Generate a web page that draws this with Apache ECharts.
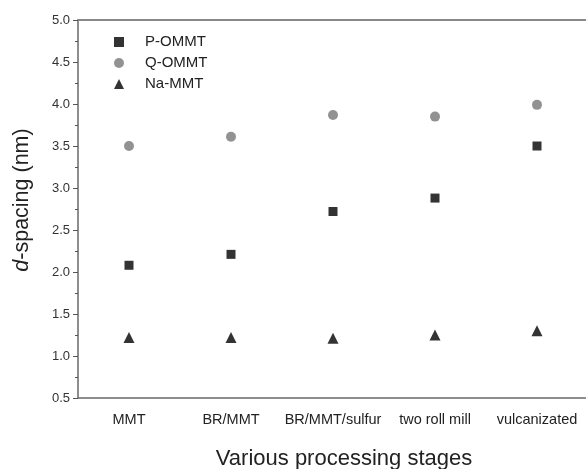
<!DOCTYPE html>
<html>
<head>
<meta charset="utf-8">
<script src="https://cdn.jsdelivr.net/npm/echarts@6/dist/echarts.min.js"></script>
<style>
  html, body { margin: 0; padding: 0; background: #fff; }
  #chart { width: 586px; height: 469px; }
</style>
</head>
<body>
<div id="chart"></div>
<script>
// processing stages on the x axis
const stages = ['MMT', 'BR/MMT', 'BR/MMT/sulfur', 'two roll mill', 'vulcanizated'];

// d-spacing (nm) per stage
const pOmmt = [2.08, 2.21, 2.72, 2.88, 3.50];
const qOmmt = [3.50, 3.61, 3.87, 3.85, 3.99];
const naMmt = [1.22, 1.22, 1.21, 1.25, 1.30];

const font = '"Liberation Sans", Arial, sans-serif';

const chart = echarts.init(document.getElementById('chart'), null, { renderer: 'canvas' });

chart.setOption({
  animation: false,
  textStyle: { fontFamily: font },
  grid: {
    left: 78, top: 20, width: 510, height: 378,
    outerBoundsMode: 'none',
    show: true, borderColor: '#aaa', borderWidth: 1
  },
  legend: {
    left: 109, top: 29, orient: 'vertical', itemGap: 5,
    itemWidth: 10, itemHeight: 10,
    textStyle: { fontFamily: font, fontSize: 15, color: '#222', lineHeight: 16, padding: [0, 0, 0, 16] },
    data: ['P-OMMT', 'Q-OMMT', 'Na-MMT']
  },
  xAxis: [{
    type: 'category',
    data: stages,
    boundaryGap: true,
    name: 'Various processing stages',
    nameLocation: 'middle',
    nameGap: 50,
    nameTextStyle: { fontFamily: font, fontSize: 22, color: '#222', padding: [0, 0, 0, 22] },
    axisLine: { lineStyle: { color: '#777', width: 1.5 } },
    axisTick: { alignWithLabel: true, length: 5, lineStyle: { color: '#555' } },
    axisLabel: { fontFamily: font, fontSize: 14.5, color: '#222', margin: 14, interval: 0 },
    splitLine: { show: false }
  }, {
    type: 'category',
    data: stages,
    position: 'top',
    axisLine: { show: true, lineStyle: { color: '#888', width: 2 } },
    axisTick: { show: false },
    axisLabel: { show: false },
    splitLine: { show: false }
  }],
  yAxis: {
    type: 'value',
    min: 0.5, max: 5.0, interval: 0.5,
    name: '{i|d}-spacing (nm)',
    nameLocation: 'middle',
    nameGap: 45,
    nameTextStyle: {
      fontFamily: font, fontSize: 21.5, color: '#222', padding: [0, 0, 0, 18],
      rich: { i: { fontFamily: font, fontSize: 21.5, fontStyle: 'italic', color: '#222' } }
    },
    axisLine: { show: true, lineStyle: { color: '#777', width: 1.5 } },
    axisTick: { show: true, inside: false, length: 5, lineStyle: { color: '#555' } },
    minorTick: { show: true, splitNumber: 2, length: 3, lineStyle: { color: '#555' } },
    axisLabel: {
      fontFamily: font, fontSize: 13, color: '#333', margin: 8,
      formatter: v => v.toFixed(1)
    },
    splitLine: { show: false }
  },
  series: [
    {
      name: 'P-OMMT', type: 'scatter', data: pOmmt,
      symbol: 'rect', symbolSize: 9,
      itemStyle: { color: '#000' }
    },
    {
      name: 'Q-OMMT', type: 'scatter', data: qOmmt,
      symbol: 'circle', symbolSize: 10,
      itemStyle: { color: '#777' }
    },
    {
      name: 'Na-MMT', type: 'scatter', data: naMmt,
      symbol: 'triangle', symbolSize: 11,
      itemStyle: { color: '#000' }
    }
  ]
});
</script>
</body>
</html>
